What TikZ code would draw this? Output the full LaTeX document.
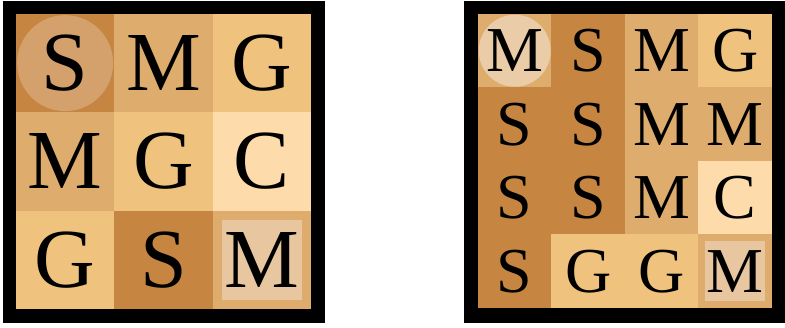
\documentclass[tikz,border=0pt]{standalone}
\usepackage{fontspec}
\setmainfont{Liberation Serif}
\usepackage{tikz}
\definecolor{colS}{HTML}{C68642}
\definecolor{colM}{HTML}{DEAD6E}
\definecolor{colG}{HTML}{EFC27E}
\definecolor{colC}{HTML}{FDDBAB}
\definecolor{cerchioS}{HTML}{D4A06C}
\definecolor{cerchioM}{HTML}{EACCA8}
\definecolor{riquadro}{HTML}{E8C7A0}

\begin{document}
\begin{tikzpicture}[x=1pt, y=-1pt,
    cella/.style={minimum size=#1, inner sep=0pt, outer sep=0pt, draw=none},
    lettera/.style={inner sep=0pt, text=black, font=\fontsize{#1}{#1}\selectfont}]
    \useasboundingbox (0,0) rectangle (785,328);

    % Griglia 3x3
    \fill[black] (3,1) rectangle (325,323);
    \foreach \r/\riga in {0/{S,M,G}, 1/{M,G,C}, 2/{G,S,M}} {
        \foreach \l [count=\c from 0] in \riga
            \node[cella=98.6pt, fill=col\l] (L-\r-\c) at ({16+98.33*(\c+0.5)},{14+98.33*(\r+0.5)}) {};
    }
    \fill[cerchioS] (L-0-0) circle[radius=48]; % Evidenziazione di partenza
    \fill[riquadro] (L-2-2) ++(-40,-40) rectangle ++(80,80); % Evidenziazione di arrivo
    \foreach \r/\riga in {0/{S,M,G}, 1/{M,G,C}, 2/{G,S,M}} {
        \foreach \l [count=\c from 0] in \riga
            \node[lettera=84] (tL-\r-\c) at (L-\r-\c) {\l};
    }

    % Griglia 4x4
    \fill[black] (464,1) rectangle (785,323);
    \foreach \r/\riga in {0/{M,S,M,G}, 1/{S,S,M,M}, 2/{S,S,M,C}, 3/{S,G,G,M}} {
        \foreach \l [count=\c from 0] in \riga
            \node[cella=73.8pt, fill=col\l] (R-\r-\c) at ({478+73.5*(\c+0.5)},{14+73.5*(\r+0.5)}) {};
    }
    \fill[cerchioM] (R-0-0) circle[radius=36]; % Evidenziazione di partenza
    \fill[riquadro] (R-3-3) ++(-30,-30) rectangle ++(60,60); % Evidenziazione di arrivo
    \foreach \r/\riga in {0/{M,S,M,G}, 1/{S,S,M,M}, 2/{S,S,M,C}, 3/{S,G,G,M}} {
        \foreach \l [count=\c from 0] in \riga
            \node[lettera=64] (tR-\r-\c) at (R-\r-\c) {\l};
    }
\end{tikzpicture}
\end{document}
